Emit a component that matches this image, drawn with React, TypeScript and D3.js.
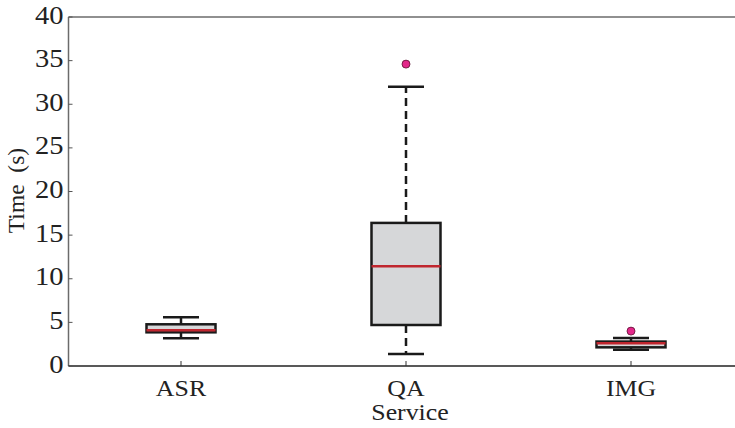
import React from "react";
import * as d3 from "d3";

const categories = ["ASR", "QA", "IMG"];
const whiskerLow = [3.17, 1.38, 1.85];
const q1 = [3.86, 4.7, 2.14];
const median = [4.09, 11.43, 2.6];
const q3 = [4.78, 16.4, 2.8];
const whiskerHigh = [5.58, 32.0, 3.2];
const outliers: number[][] = [[], [34.6], [4.0]];
const yTicks = [0, 5, 10, 15, 20, 25, 30, 35, 40];

const W = 735;
const H = 428;
const left = 68.5;
const top = 17;
const bottom = 366;

export default function App() {
  const x = d3.scaleLinear().domain([0.5, 3.5]).range([left, left + 675]);
  const y = d3.scaleLinear().domain([0, 40]).range([bottom, top]);
  const boxW = 69;
  const capW = 36;
  const font = "Liberation Serif, Times New Roman, serif";
  return (
    <svg width={W} height={H} style={{ position: "absolute", left: 0, top: 0 }}>
      <rect width={W} height={H} fill="#fff" />
      {/* axes */}
      <line x1={left} x2={W} y1={top} y2={top} stroke="#6b6b6b" strokeWidth={1.5} />
      <line x1={left} x2={left} y1={top} y2={bottom} stroke="#6b6b6b" strokeWidth={1.5} />
      <line x1={left} x2={W} y1={bottom} y2={bottom} stroke="#222" strokeWidth={1.5} />
      {yTicks.map((t) => (
        <g key={t}>
          <line x1={left} x2={left + 4} y1={y(t)} y2={y(t)} stroke="#555" strokeWidth={1} />
          <text
            transform={`translate(${left - 5},${y(t) + 6.5}) scale(1.12,1)`}
            textAnchor="end"
            fontFamily={font}
            fontSize={25.5}
            fill="#222"
          >
            {t}
          </text>
        </g>
      ))}
      {categories.map((c, i) => (
        <g key={c}>
          <line x1={x(i + 1)} x2={x(i + 1)} y1={bottom} y2={bottom - 5} stroke="#333" strokeWidth={1} />
          <text
            transform={`translate(${x(i + 1)},${396}) scale(1.1,1)`}
            textAnchor="middle"
            fontFamily={font}
            fontSize={23.5}
            fill="#222"
          >
            {c}
          </text>
        </g>
      ))}
      <text
        transform={`translate(${410},${420}) scale(1.1,1)`}
        textAnchor="middle"
        fontFamily={font}
        fontSize={23.5}
        fill="#222"
      >
        Service
      </text>
      <text
        transform={`translate(24,${(top + bottom) / 2 - 1}) rotate(-90)`}
        textAnchor="middle"
        fontFamily={font}
        fontSize={23.5}
        fill="#222"
        style={{ whiteSpace: "pre" }}
      >
        {"Time  (s)"}
      </text>
      {/* boxes */}
      {categories.map((c, i) => {
        const cx = x(i + 1);
        return (
          <g key={c}>
            <line x1={cx} x2={cx} y1={y(q3[i])} y2={y(whiskerHigh[i])} stroke="#1a1a1a" strokeWidth={2.5} strokeDasharray="8,5" />
            <line x1={cx} x2={cx} y1={y(q1[i])} y2={y(whiskerLow[i])} stroke="#1a1a1a" strokeWidth={2.5} strokeDasharray="8,5" />
            <line x1={cx - capW / 2} x2={cx + capW / 2} y1={y(whiskerHigh[i])} y2={y(whiskerHigh[i])} stroke="#1a1a1a" strokeWidth={2.5} />
            <line x1={cx - capW / 2} x2={cx + capW / 2} y1={y(whiskerLow[i])} y2={y(whiskerLow[i])} stroke="#1a1a1a" strokeWidth={2.5} />
            <rect
              x={cx - boxW / 2}
              y={y(q3[i])}
              width={boxW}
              height={y(q1[i]) - y(q3[i])}
              fill="#d6d7d9"
              stroke="#1a1a1a"
              strokeWidth={2.5}
            />
            <line x1={cx - boxW / 2} x2={cx + boxW / 2} y1={y(median[i])} y2={y(median[i])} stroke="#c0262f" strokeWidth={2.5} />
            {outliers[i].map((o, j) => (
              <circle key={j} cx={cx} cy={y(o)} r={4} fill="#e3288a" stroke="#5a1030" strokeWidth={0.8} />
            ))}
          </g>
        );
      })}
    </svg>
  );
}
